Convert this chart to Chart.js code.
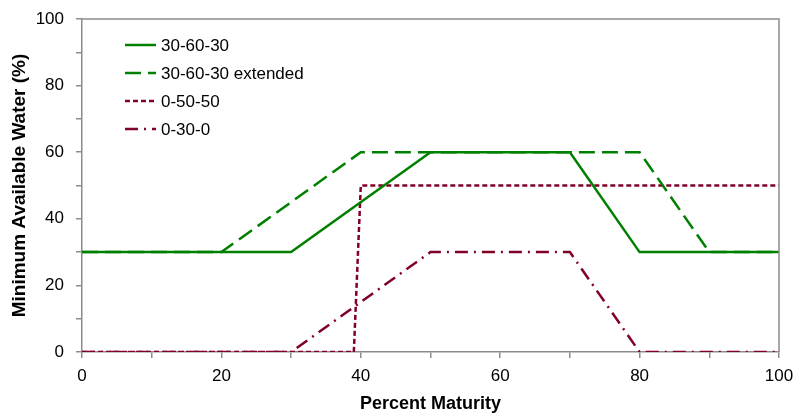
<!DOCTYPE html>
<html>
<head>
<meta charset="utf-8">
<script src="https://cdn.jsdelivr.net/npm/chart.js@4/dist/chart.umd.min.js"></script>
<style>
  html, body { margin: 0; padding: 0; background: #fff; }
  #wrap { width: 794px; height: 415px; }
</style>
</head>
<body>
<div id="wrap"><canvas id="waterChart" width="794" height="415"></canvas></div>
<script>
// breakpoints (percent maturity -> minimum available water %)
let seriesNames = ["30-60-30", "30-60-30 extended", "0-50-50", "0-30-0"];
let base30X = [0, 30, 50, 70, 80, 100];
let base30Y = [30, 30, 60, 60, 30, 30];
let extX = [0, 20, 40, 80, 90, 100];
let extY = [30, 30, 60, 60, 30, 30];
let step50X = [0, 39, 40, 100];
let step50Y = [0, 0, 50, 50];
let zero30X = [0, 30, 50, 70, 80, 100];
let zero30Y = [0, 0, 30, 30, 0, 0];
let tickValues = [0, 10, 20, 30, 40, 50, 60, 70, 80, 90, 100];

let green = "#008000";
let maroon = "#800026";
let fontFamily = "'Liberation Sans', Arial, sans-serif";

function toPoints(xs, ys) {
  return xs.map(function (x, i) { return { x: x, y: ys[i] }; });
}

function lineSet(label, xs, ys, color, dash) {
  return {
    label: label,
    data: toPoints(xs, ys),
    borderColor: color,
    backgroundColor: color,
    borderWidth: 2.5,
    borderDash: dash,
    pointRadius: 0,
    tension: 0,
    fill: false
  };
}

// frame round the plot area plus a legend sitting inside it
let frameAndLegend = {
  id: "frameAndLegend",
  afterDraw: function (chart) {
    let ctx = chart.ctx;
    let a = chart.chartArea;
    ctx.save();
    ctx.strokeStyle = "#8c8c8c";
    ctx.lineWidth = 1.5;
    ctx.beginPath();
    ctx.moveTo(a.left, a.top);
    ctx.lineTo(a.right, a.top);
    ctx.lineTo(a.right, a.bottom);
    ctx.stroke();

    let rows = [45, 73, 101, 129];
    ctx.font = "17px " + fontFamily;
    ctx.textBaseline = "middle";
    ctx.fillStyle = "#000";
    chart.data.datasets.forEach(function (ds, i) {
      ctx.strokeStyle = ds.borderColor;
      ctx.lineWidth = ds.borderWidth;
      ctx.setLineDash(ds.borderDash || []);
      ctx.beginPath();
      ctx.moveTo(125, rows[i]);
      ctx.lineTo(156, rows[i]);
      ctx.stroke();
      ctx.setLineDash([]);
      ctx.fillText(ds.label, 161, rows[i] + 1);
    });
    ctx.restore();
  }
};

let everyOther = function (value) {
  return value % 20 === 0 ? value : "";
};

let allTicks = function (scale) {
  scale.ticks = tickValues.map(function (v) { return { value: v }; });
};

new Chart(document.getElementById("waterChart").getContext("2d"), {
  type: "line",
  data: {
    datasets: [
      lineSet(seriesNames[0], base30X, base30Y, green, []),
      lineSet(seriesNames[1], extX, extY, green, [16, 7]),
      lineSet(seriesNames[2], step50X, step50Y, maroon, [5, 3]),
      lineSet(seriesNames[3], zero30X, zero30Y, maroon, [13, 6, 2, 6])
    ]
  },
  options: {
    responsive: false,
    animation: false,
    layout: { padding: { left: 8, right: 15, top: 19, bottom: 0 } },
    plugins: { legend: { display: false }, tooltip: { enabled: false } },
    scales: {
      x: {
        type: "linear",
        min: 0,
        max: 100,
        afterBuildTicks: allTicks,
        afterFit: function (scale) {
          scale.paddingLeft = 0;
          scale.paddingRight = 0;
          scale.height = 63;
        },
        ticks: {
          callback: everyOther,
          color: "#000",
          font: { family: fontFamily, size: 17 },
          maxRotation: 0,
          autoSkip: false,
          padding: 8
        },
        grid: { drawOnChartArea: false, tickLength: 6, color: "#8c8c8c", lineWidth: 1.5 },
        border: { color: "#8c8c8c", width: 1.5 },
        title: {
          display: true,
          text: "Percent Maturity",
          color: "#000",
          font: { family: fontFamily, size: 18, weight: "bold" },
          padding: { top: 4, bottom: 0 }
        }
      },
      y: {
        min: 0,
        max: 100,
        afterBuildTicks: allTicks,
        afterFit: function (scale) {
          scale.paddingTop = 0;
          scale.paddingBottom = 0;
          scale.width = 74;
        },
        ticks: {
          callback: everyOther,
          color: "#000",
          font: { family: fontFamily, size: 17 },
          padding: 12
        },
        grid: { drawOnChartArea: false, tickLength: 6, color: "#8c8c8c", lineWidth: 1.5 },
        border: { color: "#8c8c8c", width: 1.5 },
        title: {
          display: true,
          text: "Minimum Available Water (%)",
          color: "#000",
          font: { family: fontFamily, size: 19, weight: "bold" },
          padding: { top: 0, bottom: 2 }
        }
      }
    }
  },
  plugins: [frameAndLegend]
});
</script>
</body>
</html>
